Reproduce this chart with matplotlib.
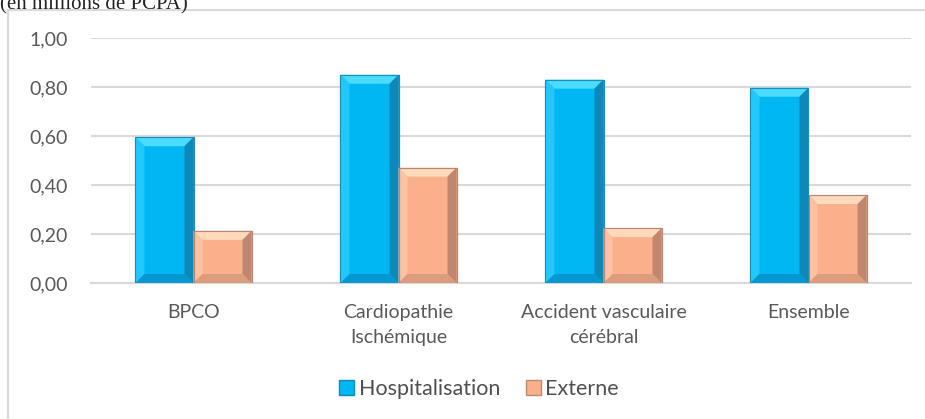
import matplotlib
matplotlib.use("Agg")
import matplotlib.pyplot as plt
from matplotlib.patches import Polygon, Rectangle, Patch
from matplotlib.ticker import FuncFormatter

# Données (en millions de PCPA)
categories = ["BPCO", "Cardiopathie\nIschémique", "Accident vasculaire\ncérébral", "Ensemble"]
hospitalisation = [0.595, 0.850, 0.830, 0.797]
externe = [0.213, 0.471, 0.224, 0.359]
yticks = [0.0, 0.2, 0.4, 0.6, 0.8, 1.0]

W, H = 925, 419
fig = plt.figure(figsize=(W / 100, H / 100), dpi=100)
ax = fig.add_axes([91 / W, 1 - 283 / H, 820 / W, 245 / H])

# cadre du graphique (bords haut et gauche visibles)
fig.patches.append(Rectangle((8 / W, -0.05), 1.1, 1 - 10 / H + 0.05,
                             transform=fig.transFigure, fill=False,
                             edgecolor="#D9D9D9", linewidth=1.5, zorder=0))

fig.text(0, 1 - 9 / H, "(en millions de PCPA)", family="Liberation Serif",
         fontsize=15, color="#222222", ha="left", va="baseline")

colors = {
    "hosp": dict(face="#00B7F4", top="#4ADBFF", left="#22C8FB", right="#0E88B8",
                 bottom="#0598D0", edge="#1A8DB8"),
    "ext": dict(face="#FAB18B", top="#FFD9BC", left="#FCC3A2", right="#C08770",
                bottom="#DC9C7E", edge="#B8866E"),
}

n = len(categories)
x = list(range(n))
bw = 0.283
b1 = ax.bar([i - bw / 2 for i in x], hospitalisation, bw, color=colors["hosp"]["face"],
            edgecolor=colors["hosp"]["edge"], linewidth=0.8, zorder=3, label="Hospitalisation")
b2 = ax.bar([i + bw / 2 for i in x], externe, bw, color=colors["ext"]["face"],
            edgecolor=colors["ext"]["edge"], linewidth=0.8, zorder=3, label="Externe")

ax.set_xlim(-0.5, n - 0.5)
ax.set_ylim(0, 1.0)

# effet biseauté, taille en pixels convertie en unités de données
bev_px = 9
dx = bev_px / 820 * n
dy = bev_px / 245 * 1.0


def bevel(bars, c):
    for r in bars:
        x0, y0 = r.get_x(), r.get_y()
        w, h = r.get_width(), r.get_height()
        x1, y1 = x0 + w, y0 + h
        ex, ey = min(dx, w / 2), min(dy, h / 2)
        faces = [
            ([(x0, y1), (x1, y1), (x1 - ex, y1 - ey), (x0 + ex, y1 - ey)], c["top"]),
            ([(x0, y0), (x0, y1), (x0 + ex, y1 - ey), (x0 + ex, y0 + ey)], c["left"]),
            ([(x1, y0), (x1, y1), (x1 - ex, y1 - ey), (x1 - ex, y0 + ey)], c["right"]),
            ([(x0, y0), (x1, y0), (x1 - ex, y0 + ey), (x0 + ex, y0 + ey)], c["bottom"]),
        ]
        for pts, col in faces:
            ax.add_patch(Polygon(pts, closed=True, facecolor=col, edgecolor="none", zorder=4))
        ax.add_patch(Rectangle((x0, y0), w, h, fill=False, edgecolor=c["edge"],
                               linewidth=0.8, zorder=5))


bevel(b1, colors["hosp"])
bevel(b2, colors["ext"])

ax.set_yticks(yticks)
ax.yaxis.set_major_formatter(FuncFormatter(lambda v, p: f"{v:.2f}".replace(".", ",")))
ax.grid(axis="y", color="#D9D9D9", linewidth=1.5, zorder=0)
ax.set_axisbelow(True)
for s in ["top", "right", "left"]:
    ax.spines[s].set_visible(False)
ax.spines["bottom"].set_color("#D9D9D9")
ax.spines["bottom"].set_linewidth(1.5)

ax.set_xticks(x)
ax.set_xticklabels(categories, linespacing=1.6)
ax.tick_params(axis="both", length=0, labelsize=14, labelcolor="#595959")
ax.tick_params(axis="y", pad=17)
ax.tick_params(axis="x", pad=15)
for t in ax.get_xticklabels() + ax.get_yticklabels():
    t.set_family("Lato")

handles = [Patch(facecolor=colors["hosp"]["face"], edgecolor=colors["hosp"]["right"]),
           Patch(facecolor=colors["ext"]["face"], edgecolor=colors["ext"]["right"])]
fig.legend(handles, ["Hospitalisation", "Externe"], loc="center",
           bbox_to_anchor=(479 / W, 1 - 389 / H), ncol=2, frameon=False,
           handlelength=0.7, handleheight=0.7, handletextpad=0.2, columnspacing=1.2,
           prop={"family": "Lato", "size": 15.5}, labelcolor="#505050")

fig.savefig("out.png", dpi=100, facecolor="white")
